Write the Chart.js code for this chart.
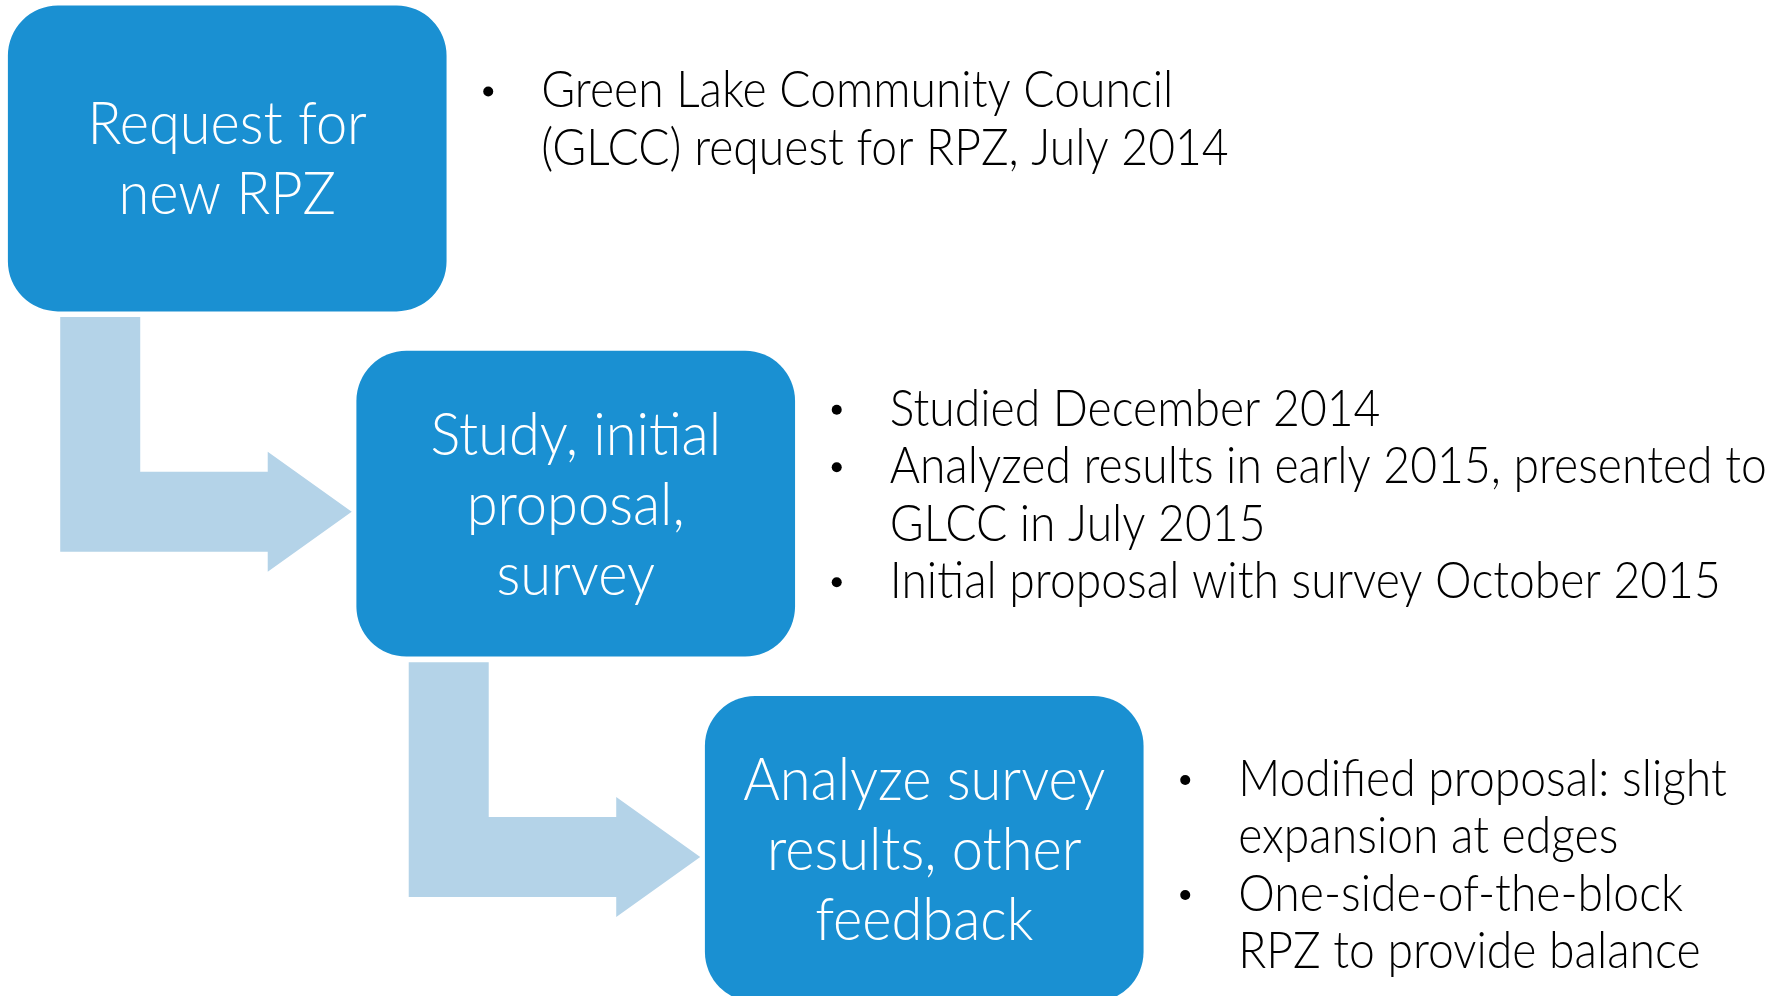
<!DOCTYPE html>
<html>
<head>
<meta charset="utf-8">
<title>RPZ process</title>
<script src="https://cdn.jsdelivr.net/npm/chart.js@4.4.1/dist/chart.umd.min.js"></script>
<style>
    html, body { margin: 0; padding: 0; background: #ffffff; }
    #wrap { width: 1769px; height: 996px; position: relative; }
</style>
</head>
<body>
<div id="wrap"><canvas id="flowChart"></canvas></div>
<script>
// Steps of the process (box titles, line by line)
const STEP_TITLES = [
    ['Request for', 'new RPZ'],
    ['Study, initial', 'proposal,', 'survey'],
    ['Analyze survey', 'results, other', 'feedback']
];
const STEP_INDEX = [0, 1, 2];

// Bullets next to each box, already wrapped as in the slide
const STEP_NOTES = [
    [['Green Lake Community Council', '(GLCC) request for RPZ, July 2014']],
    [['Studied December 2014'],
     ['Analyzed results in early 2015, presented to', 'GLCC in July 2015'],
     ['Initial proposal with survey October 2015']],
    [['Modified proposal: slight', 'expansion at edges'],
     ['One-side-of-the-block', 'RPZ to provide balance']]
];

const BOX_COLOR = '#1a90d2';
const ARROW_COLOR = '#b4d3e8';
const FONT_FAMILY = 'Lato, "Open Sans", "Noto Sans", sans-serif';

// layout (pixels)
const BOX_W = 438;
const BOX_H = 305;
const BOX_HALF = 0.442;       // half box height in step units
const TITLE_SIZE = 60;
const TITLE_LINE = 70;
const NOTE_SIZE = 52;
const NOTE_LINE = 57.5;
const NOTE_TOP = [-51, -78, -53];

let noteSqueeze = 1;
let titleSqueeze = 1;

function drawText(ctx, text, x, y, align, sx) {
    ctx.save();
    ctx.translate(x, y);
    ctx.scale(sx, 1);
    ctx.textAlign = align;
    ctx.fillText(text, 0, 0);
    ctx.restore();
}

const arrowPlugin = {
    id: 'arrows',
    beforeDatasetsDraw(chart) {
        const ctx = chart.ctx;
        const xs = chart.scales.x;
        const ys = chart.scales.y;
        ctx.save();
        ctx.fillStyle = ARROW_COLOR;
        for (let i = 0; i < STEP_INDEX.length - 1; i++) {
            const left = xs.getPixelForValue(STEP_INDEX[i]) - BOX_W / 2;
            const bottom = ys.getPixelForValue(STEP_INDEX[i]) + BOX_H / 2;
            const nextLeft = xs.getPixelForValue(STEP_INDEX[i + 1]) - BOX_W / 2;
            const mid = ys.getPixelForValue(STEP_INDEX[i + 1]) + 8;

            const stemL = left + 52, stemR = left + 132, top = bottom + 6;
            const tip = nextLeft - 5, headBase = tip - 84;

            ctx.beginPath();
            ctx.moveTo(stemL, top);
            ctx.lineTo(stemR, top);
            ctx.lineTo(stemR, mid - 40);
            ctx.lineTo(headBase, mid - 40);
            ctx.lineTo(headBase, mid - 60);
            ctx.lineTo(tip, mid);
            ctx.lineTo(headBase, mid + 60);
            ctx.lineTo(headBase, mid + 40);
            ctx.lineTo(stemL, mid + 40);
            ctx.closePath();
            ctx.fill();
        }
        ctx.restore();
    }
};

const textPlugin = {
    id: 'texts',
    afterDatasetsDraw(chart) {
        const ctx = chart.ctx;
        const xs = chart.scales.x;
        const ys = chart.scales.y;
        ctx.save();
        ctx.textBaseline = 'alphabetic';

        // match the narrow slide font widths
        ctx.font = `300 ${NOTE_SIZE}px ${FONT_FAMILY}`;
        noteSqueeze = 632 / ctx.measureText('Green Lake Community Council').width;
        ctx.font = `300 ${TITLE_SIZE}px ${FONT_FAMILY}`;
        titleSqueeze = 362 / ctx.measureText('Analyze survey').width;

        STEP_INDEX.forEach(i => {
            const cx = xs.getPixelForValue(i);
            const cy = ys.getPixelForValue(i);

            // box title
            const lines = STEP_TITLES[i];
            ctx.fillStyle = '#ffffff';
            ctx.font = `300 ${TITLE_SIZE}px ${FONT_FAMILY}`;
            let y = cy - (lines.length - 1) * TITLE_LINE / 2 + 21;
            lines.forEach(line => {
                drawText(ctx, line, cx, y, 'center', titleSqueeze);
                y += TITLE_LINE;
            });

            // bullets
            const right = cx + BOX_W / 2;
            ctx.fillStyle = '#000000';
            ctx.font = `300 ${NOTE_SIZE}px ${FONT_FAMILY}`;
            y = cy + NOTE_TOP[i];
            STEP_NOTES[i].forEach(note => {
                ctx.beginPath();
                ctx.arc(right + 42, y - 16, 5, 0, Math.PI * 2);
                ctx.fill();
                note.forEach(line => {
                    drawText(ctx, line, right + 95, y, 'left', noteSqueeze);
                    y += NOTE_LINE;
                });
            });
        });
        ctx.restore();
    }
};

function createChart() {
    const ctx = document.getElementById('flowChart').getContext('2d');
    new Chart(ctx, {
        type: 'bar',
        data: {
            datasets: [{
                data: STEP_INDEX.map(i => ({ x: i, y: [i - BOX_HALF, i + BOX_HALF] })),
                backgroundColor: BOX_COLOR,
                borderRadius: 50,
                borderSkipped: false,
                barThickness: BOX_W
            }]
        },
        options: {
            responsive: true,
            maintainAspectRatio: false,
            animation: false,
            events: [],
            layout: { padding: 0 },
            plugins: {
                legend: { display: false },
                tooltip: { enabled: false }
            },
            scales: {
                x: { type: 'linear', offset: false, min: -0.652, max: 4.424, display: false },
                y: { type: 'linear', reverse: true, min: -0.459, max: 2.426, display: false }
            }
        },
        plugins: [arrowPlugin, textPlugin]
    });
}

document.fonts.load(`300 ${NOTE_SIZE}px Lato`).then(createChart, createChart);
</script>
</body>
</html>
